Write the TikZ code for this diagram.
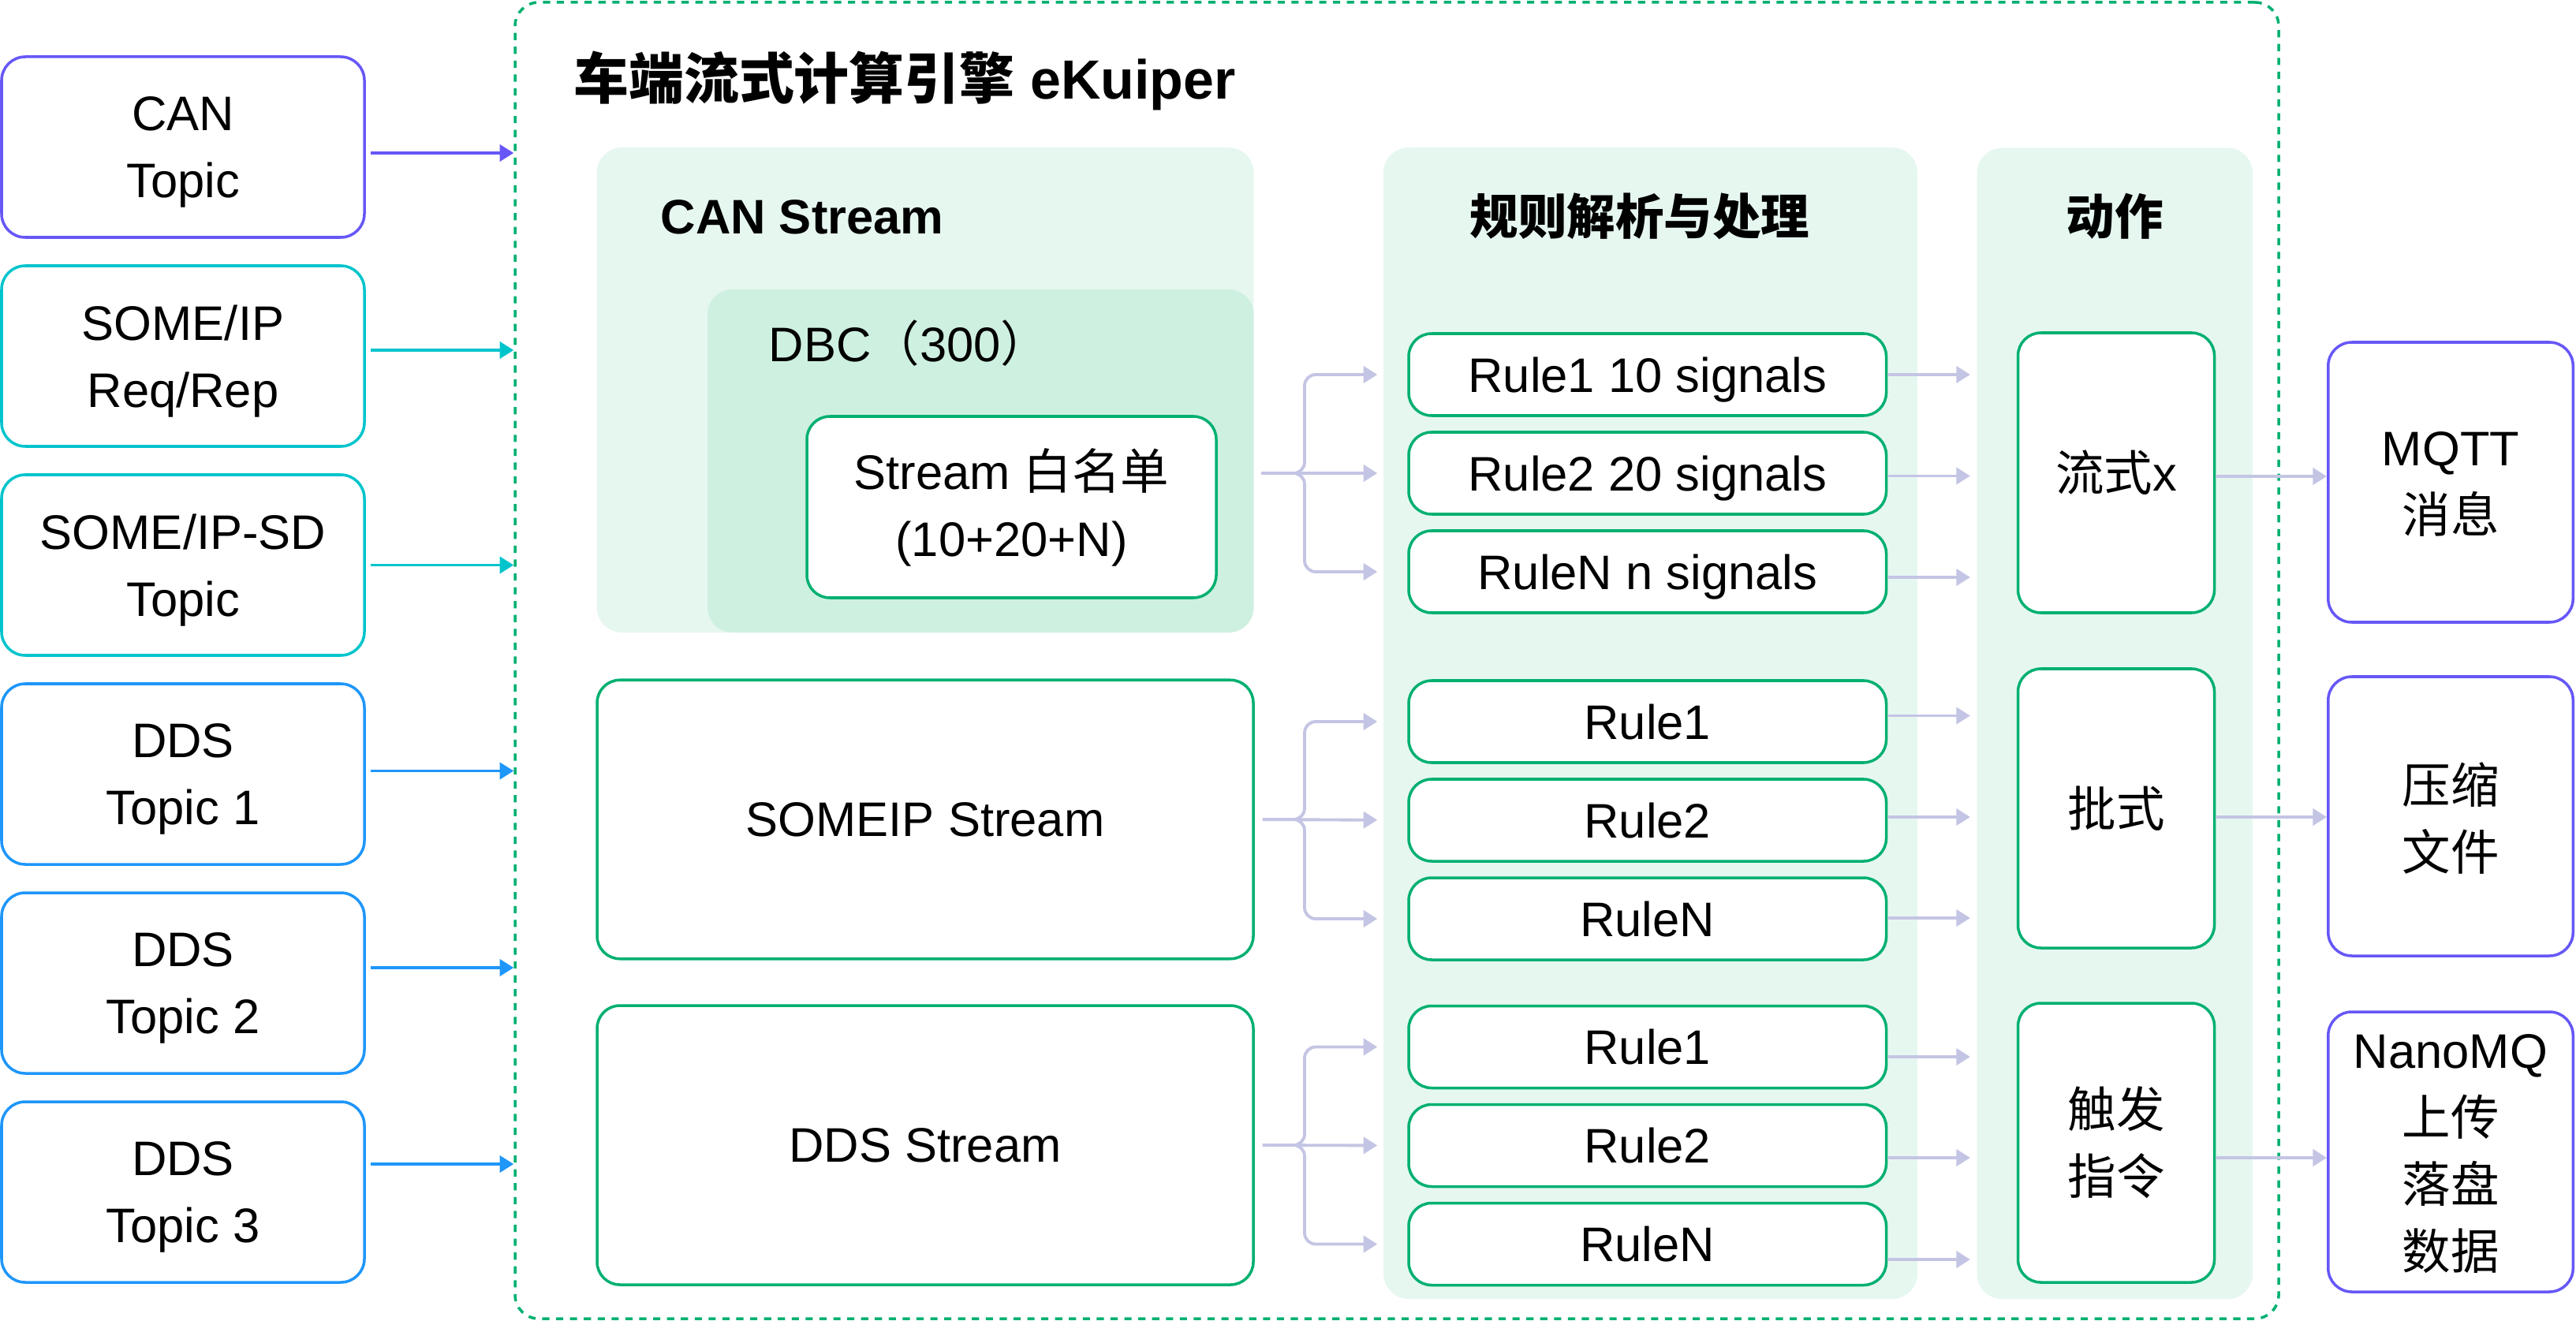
\documentclass[tikz,border=0pt]{standalone}
\usepackage{fontspec}
\setmainfont{Liberation Sans}
\newfontfamily\cjk{Noto Sans CJK SC}
\usetikzlibrary{arrows.meta,positioning}
\definecolor{CanClr}{RGB}{103,87,247}
\definecolor{SomeipClr}{RGB}{0,196,204}
\definecolor{DdsClr}{RGB}{30,150,250}
\definecolor{RuleClr}{RGB}{0,176,112}
\definecolor{PanelClr}{RGB}{230,247,240}
\definecolor{DbcClr}{RGB}{206,240,224}
\definecolor{FlowClr}{RGB}{196,197,228}

\tikzset{
  txt/.style={font=\fontsize{17.5}{24.2}\selectfont, align=center},
  headtxt/.style={font=\fontsize{17.5}{24.2}\selectfont\bfseries, inner sep=0pt},
  titletxt/.style={font=\fontsize{19.9}{24}\selectfont\bfseries, inner sep=0pt},
  srcbox/.style={txt, draw=#1, line width=1pt, rounded corners=0.3cm,
    minimum width=4.6cm, minimum height=2.29cm, inner sep=0pt, text depth=0pt},
  panel/.style={fill=#1, rounded corners=0.32cm, inner sep=0pt},
  whitebox/.style={txt, draw=RuleClr, fill=white, line width=1pt,
    rounded corners=0.29cm, inner sep=0pt},
  rulebox/.style={whitebox, minimum width=6.055cm, minimum height=1.04cm, text depth=0pt},
  actbox/.style={whitebox, minimum width=2.49cm, minimum height=3.54cm},
  outbox/.style={txt, draw=CanClr, line width=1pt, rounded corners=0.3cm,
    minimum width=3.105cm, minimum height=3.55cm, inner sep=0pt, text depth=0pt},
  engineframe/.style={draw=RuleClr, line width=1pt, dash pattern=on 2.6pt off 2.4pt,
    rounded corners=0.3cm, minimum width=22.36cm, minimum height=16.69cm, inner sep=0pt},
  inarrow/.style={draw=#1, line width=1pt, -{Triangle[length=5pt,width=6pt]}},
  flow/.style={draw=FlowClr, line width=1.1pt, -{Triangle[length=5pt,width=6pt]}}
}

\begin{document}
\begin{tikzpicture}[x=1cm,y=-1cm]
\useasboundingbox (0,0) rectangle (32.66,16.75);

% Sources on the left.
\node[srcbox=CanClr] (can) at (2.32,1.865) {CAN\\Topic};
\node[srcbox=SomeipClr] (someip) at (2.32,4.515) {SOME/IP\\Req/Rep};
\node[srcbox=SomeipClr] (someipsd) at (2.32,7.165) {SOME/IP-SD\\Topic};
\node[srcbox=DdsClr] (dds1) at (2.32,9.815) {DDS\\Topic 1};
\node[srcbox=DdsClr] (dds2) at (2.32,12.465) {DDS\\Topic 2};
\node[srcbox=DdsClr] (dds3) at (2.32,15.115) {DDS\\Topic 3};

% The engine frame and its title.
\node[engineframe] (engine) at (17.71,8.375) {};
\node[titletxt, anchor=base west] at (7.265,1.257) {{\cjk 车端流式计算引擎} eKuiper};

% Streams.
\node[panel=PanelClr, minimum width=8.33cm, minimum height=6.15cm] (canpanel) at (11.73,4.945) {};
\node[panel=DbcClr, minimum width=6.925cm, minimum height=4.35cm] (dbc) at (12.4325,5.845) {};
\node[headtxt, anchor=base west] at (8.37,2.966) {CAN Stream};
\node[txt, inner sep=0pt, anchor=base west] at (9.74,4.59) {DBC{\cjk （}300{\cjk ）}};
\node[whitebox, minimum width=5.19cm, minimum height=2.30cm] (whitelist) at (12.825,6.43)
  {Stream {\cjk 白名单}\\(10+20+N)};
\node[whitebox, minimum width=8.32cm, minimum height=3.535cm] (someipstream) at (11.73,10.39) {SOMEIP Stream};
\node[whitebox, minimum width=8.32cm, minimum height=3.54cm] (ddsstream) at (11.73,14.52) {DDS Stream};

% Rules.
\node[panel=PanelClr, minimum width=6.77cm, minimum height=14.60cm] (rules) at (20.925,9.17) {};
\node[headtxt] at (20.79,2.74) {{\cjk 规则解析与处理}};
\node[rulebox] (r11) at (20.8875,4.75) {Rule1 10 signals};
\node[rulebox] (r12) at (20.8875,6.00) {Rule2 20 signals};
\node[rulebox] (r13) at (20.8875,7.25) {RuleN n signals};
\node[rulebox] (r21) at (20.8875,9.15) {Rule1};
\node[rulebox] (r22) at (20.8875,10.40) {Rule2};
\node[rulebox] (r23) at (20.8875,11.65) {RuleN};
\node[rulebox] (r31) at (20.8875,13.275) {Rule1};
\node[rulebox] (r32) at (20.8875,14.525) {Rule2};
\node[rulebox] (r33) at (20.8875,15.775) {RuleN};

% Actions.
\node[panel=PanelClr, minimum width=3.494cm, minimum height=14.60cm] (act) at (26.813,9.174) {};
\node[headtxt] at (26.81,2.74) {{\cjk 动作}};
\node[actbox, minimum height=3.55cm] (a1) at (26.83,5.995) {{\cjk 流式}x};
\node[actbox] (a2) at (26.83,10.25) {{\cjk 批式}};
\node[actbox] (a3) at (26.83,14.49) {{\cjk 触发}\\{\cjk 指令}};

% Outputs on the right.
\node[outbox] (mqtt) at (31.07,6.115) {MQTT\\{\cjk 消息}};
\node[outbox, minimum height=3.54cm] (zip) at (31.07,10.35) {{\cjk 压缩}\\{\cjk 文件}};
\node[outbox] (nanomq) at (31.07,14.605) {NanoMQ\\{\cjk 上传}\\{\cjk 落盘}\\{\cjk 数据}};

% Sources into the engine.
\draw[inarrow=CanClr, shorten <=0.06cm] (can.east |- 0,1.94) -- (engine.west |- 0,1.94);
\draw[inarrow=SomeipClr, shorten <=0.06cm] (someip.east |- 0,4.44) -- (engine.west |- 0,4.44);
\draw[inarrow=SomeipClr, shorten <=0.06cm] (someipsd.east |- 0,7.165) -- (engine.west |- 0,7.165);
\draw[inarrow=DdsClr, shorten <=0.06cm] (dds1.east |- 0,9.775) -- (engine.west |- 0,9.775);
\draw[inarrow=DdsClr, shorten <=0.06cm] (dds2.east |- 0,12.27) -- (engine.west |- 0,12.27);
\draw[inarrow=DdsClr, shorten <=0.06cm] (dds3.east |- 0,14.76) -- (engine.west |- 0,14.76);

% Streams split into rules.
\coordinate (b1) at (16.54,6.00);
\coordinate (b2) at (16.54,10.40);
\coordinate (b3) at (16.54,14.525);
\draw[flow, shorten <=0.09cm, shorten >=0.38cm] (canpanel.east |- r12.west) -- (r12.west);
\draw[flow, rounded corners=4pt, shorten <=0.09cm, shorten >=0.38cm] (canpanel.east |- r12.west) -| (b1 |- r11.west) -- (r11.west);
\draw[flow, rounded corners=4pt, shorten <=0.09cm, shorten >=0.38cm] (canpanel.east |- r12.west) -| (b1 |- r13.west) -- (r13.west);
\draw[flow, shorten <=0.1cm, shorten >=0.38cm] (someipstream.east) -- (r22.west);
\draw[flow, rounded corners=4pt, shorten <=0.1cm, shorten >=0.38cm] (someipstream.east) -| (b2 |- r21.west) -- (r21.west);
\draw[flow, rounded corners=4pt, shorten <=0.1cm, shorten >=0.38cm] (someipstream.east) -| (b2 |- r23.west) -- (r23.west);
\draw[flow, shorten <=0.1cm, shorten >=0.38cm] (ddsstream.east) -- (r32.west);
\draw[flow, rounded corners=4pt, shorten <=0.1cm, shorten >=0.38cm] (ddsstream.east) -| (b3 |- r31.west) -- (r31.west);
\draw[flow, rounded corners=4pt, shorten <=0.1cm, shorten >=0.38cm] (ddsstream.east) -| (b3 |- r33.west) -- (r33.west);

% Rules into actions.
\draw[flow, shorten >=0.08cm] (r11.east |- 0,4.75) -- (act.west |- 0,4.75);
\draw[flow, shorten >=0.08cm] (r12.east |- 0,6.035) -- (act.west |- 0,6.035);
\draw[flow, shorten >=0.08cm] (r13.east |- 0,7.32) -- (act.west |- 0,7.32);
\draw[flow, shorten >=0.08cm] (r21.east |- 0,9.075) -- (act.west |- 0,9.075);
\draw[flow, shorten >=0.08cm] (r22.east |- 0,10.36) -- (act.west |- 0,10.36);
\draw[flow, shorten >=0.08cm] (r23.east |- 0,11.64) -- (act.west |- 0,11.64);
\draw[flow, shorten >=0.08cm] (r31.east |- 0,13.40) -- (act.west |- 0,13.40);
\draw[flow, shorten >=0.08cm] (r32.east |- 0,14.68) -- (act.west |- 0,14.68);
\draw[flow, shorten >=0.08cm] (r33.east |- 0,15.97) -- (act.west |- 0,15.97);

% Actions to outputs.
\draw[flow] (a1.east |- 0,6.04) -- (mqtt.west |- 0,6.04);
\draw[flow] (a2.east |- 0,10.36) -- (zip.west |- 0,10.36);
\draw[flow] (a3.east |- 0,14.68) -- (nanomq.west |- 0,14.68);

\end{tikzpicture}
\end{document}
